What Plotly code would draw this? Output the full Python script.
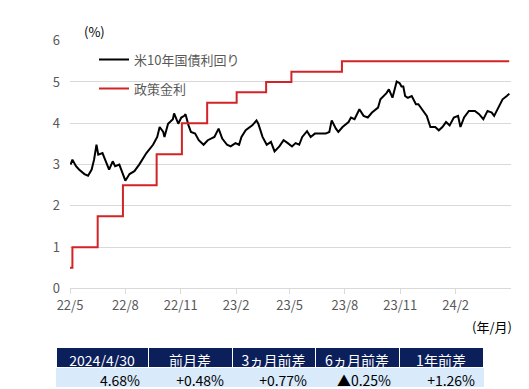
import plotly.graph_objects as go

# US 10-year treasury yield (%)
yield_dates = [
    "2022-05-02", "2022-05-05", "2022-05-11", "2022-05-16", "2022-05-25", "2022-05-31",
    "2022-06-06", "2022-06-10", "2022-06-14", "2022-06-17", "2022-06-24", "2022-06-30",
    "2022-07-05", "2022-07-11", "2022-07-15", "2022-07-22", "2022-07-28", "2022-08-01",
    "2022-08-08", "2022-08-16", "2022-08-24", "2022-09-05", "2022-09-16", "2022-09-23",
    "2022-09-27", "2022-10-03", "2022-10-05", "2022-10-11", "2022-10-19", "2022-10-21",
    "2022-10-28", "2022-11-02", "2022-11-07", "2022-11-09", "2022-11-14", "2022-11-18",
    "2022-11-25", "2022-12-01", "2022-12-09", "2022-12-16", "2022-12-27", "2023-01-03",
    "2023-01-09", "2023-01-17", "2023-01-23", "2023-01-31", "2023-02-06", "2023-02-10",
    "2023-02-17", "2023-02-28", "2023-03-07", "2023-03-10", "2023-03-17", "2023-03-24",
    "2023-03-31", "2023-04-06", "2023-04-14", "2023-04-21", "2023-04-28", "2023-05-05",
    "2023-05-11", "2023-05-17", "2023-05-22", "2023-05-30", "2023-06-05", "2023-06-12",
    "2023-06-19", "2023-06-30", "2023-07-06", "2023-07-10", "2023-07-17", "2023-07-21",
    "2023-07-28", "2023-08-07", "2023-08-11", "2023-08-17", "2023-08-25", "2023-09-01",
    "2023-09-08", "2023-09-15", "2023-09-25", "2023-09-29", "2023-10-09", "2023-10-13",
    "2023-10-19", "2023-10-24", "2023-10-26", "2023-10-31", "2023-11-03", "2023-11-06",
    "2023-11-09", "2023-11-13", "2023-11-14", "2023-11-20", "2023-11-27", "2023-12-01",
    "2023-12-11", "2023-12-15", "2023-12-21", "2023-12-29", "2024-01-04", "2024-01-10",
    "2024-01-16", "2024-01-22", "2024-01-29", "2024-02-05", "2024-02-09", "2024-02-15",
    "2024-02-23", "2024-03-04", "2024-03-11", "2024-03-18", "2024-03-25", "2024-04-01",
    "2024-04-05", "2024-04-12", "2024-04-19", "2024-04-26", "2024-04-29", "2024-04-30",
]
yield_values = [
    3.00, 3.12, 2.96, 2.88, 2.77, 2.73,
    2.88, 3.12, 3.48, 3.24, 3.28, 3.08,
    2.88, 3.08, 2.96, 3.00, 2.77, 2.61,
    2.77, 2.84, 3.00, 3.28, 3.48, 3.67,
    3.91, 3.79, 3.67, 3.99, 4.10, 4.24,
    3.99, 4.14, 4.18, 4.22, 3.95, 3.79,
    3.75, 3.59, 3.48, 3.59, 3.67, 3.87,
    3.63, 3.48, 3.44, 3.52, 3.48, 3.67,
    3.83, 3.95, 4.07, 3.99, 3.67, 3.48,
    3.55, 3.32, 3.44, 3.59, 3.52, 3.44,
    3.52, 3.48, 3.67, 3.81, 3.67, 3.75,
    3.75, 3.75, 3.79, 4.07, 3.87, 3.79,
    3.91, 4.03, 4.14, 4.10, 4.34, 4.18,
    4.14, 4.26, 4.38, 4.58, 4.73, 4.82,
    4.62, 4.89, 5.01, 4.97, 4.89, 4.89,
    4.66, 4.62, 4.62, 4.66, 4.46, 4.46,
    4.26, 4.18, 3.91, 3.91, 3.83, 3.91,
    4.03, 3.95, 4.14, 4.18, 3.91, 4.14,
    4.30, 4.30, 4.22, 4.10, 4.30, 4.26,
    4.18, 4.38, 4.58, 4.66, 4.70, 4.68,
]

# Policy rate (upper bound, %)
policy_dates = [
    "2022-05-01", "2022-05-05", "2022-06-16", "2022-07-28", "2022-09-22", "2022-11-03",
    "2022-12-15", "2023-02-02", "2023-03-23", "2023-05-04", "2023-07-27", "2024-04-30",
]
policy_values = [0.50, 1.00, 1.75, 2.50, 3.25, 4.00, 4.50, 4.75, 5.00, 5.25, 5.50, 5.50]

series_names = ["米10年国債利回り", "政策金利"]

tick_dates = ["2022-05-01", "2022-08-01", "2022-11-01", "2023-02-01",
              "2023-05-01", "2023-08-01", "2023-11-01", "2024-02-01"]
tick_labels = ["22/5", "22/8", "22/11", "23/2", "23/5", "23/8", "23/11", "24/2"]

table_header = ["2024/4/30", "前月差", "3ヵ月前差", "6ヵ月前差", "1年前差"]
table_values = ["4.68%", "+0.48%", "+0.77%", "▲0.25%", "+1.26%"]

FONT = "Noto Sans CJK JP, Noto Sans, sans-serif"
GREY = "#595959"
W, H = 529, 389
ML, MR, MT, MB = 40, 20, 20, 0
PW, PH = W - ML - MR, H - MT - MB

def px_x(x):
    return (x - ML) / PW

def px_y(y):
    return (H - MB - y) / PH

fig = go.Figure()
fig.add_trace(go.Scatter(
    x=yield_dates, y=yield_values, mode="lines", name=series_names[0],
    line=dict(color="#000000", width=2), legendgroup="a",
))
fig.add_trace(go.Scatter(
    x=policy_dates, y=policy_values, mode="lines", name=series_names[1],
    line=dict(color="#d22327", width=2, shape="hv"), legendgroup="b",
))

fig.add_trace(go.Table(
    domain=dict(x=[px_x(48), px_x(475)], y=[px_y(388), px_y(347)]),
    columnwidth=[92, 84, 83, 84, 84],
    header=dict(values=table_header, fill_color="#0b1f5b",
                line=dict(color="#ffffff", width=1),
                font=dict(color="#ffffff", size=14, family=FONT),
                align="center", height=20),
    cells=dict(values=[[v] for v in table_values], fill_color="#d9eafb",
               line=dict(color="#d9eafb", width=1),
               font=dict(color="#000000", size=14, family=FONT),
               align="right", height=21),
))

fig.update_layout(
    width=W, height=H,
    margin=dict(l=ML, r=MR, t=MT, b=MB),
    paper_bgcolor="#ffffff", plot_bgcolor="#ffffff",
    font=dict(family=FONT, color=GREY, size=13),
    showlegend=True,
    legend=dict(x=px_x(86), y=px_y(37), xanchor="left", yanchor="top",
                bgcolor="rgba(0,0,0,0)", font=dict(size=13, color=GREY, family=FONT),
                traceorder="grouped", tracegroupgap=9),
    xaxis=dict(
        type="date", domain=[px_x(62), px_x(503)],
        range=["2022-05-01", "2024-05-03"],
        tickvals=tick_dates, ticktext=tick_labels,
        ticks="outside", ticklen=5, tickcolor="#d9d9d9",
        showline=True, linecolor="#d9d9d9", linewidth=1,
        showgrid=False, zeroline=False,
        tickfont=dict(size=13, color=GREY, family=FONT),
    ),
    yaxis=dict(
        domain=[px_y(287), px_y(33)], range=[0, 6], dtick=1,
        showgrid=True, gridcolor="#d9d9d9", gridwidth=1,
        zeroline=False, showline=False, ticks="",
        ticklabelstandoff=9,
        tickfont=dict(size=13, color=GREY, family=FONT),
    ),
    annotations=[
        dict(text="(%)", xref="paper", yref="paper", x=px_x(74), y=px_y(24),
             xanchor="left", yanchor="middle", showarrow=False,
             font=dict(size=13, color="#000000", family=FONT)),
        dict(text="(年/月)", xref="paper", yref="paper", x=px_x(506), y=px_y(326),
             xanchor="right", yanchor="middle", showarrow=False,
             font=dict(size=13, color="#000000", family=FONT)),
    ],
)

fig.write_html("out.html")
